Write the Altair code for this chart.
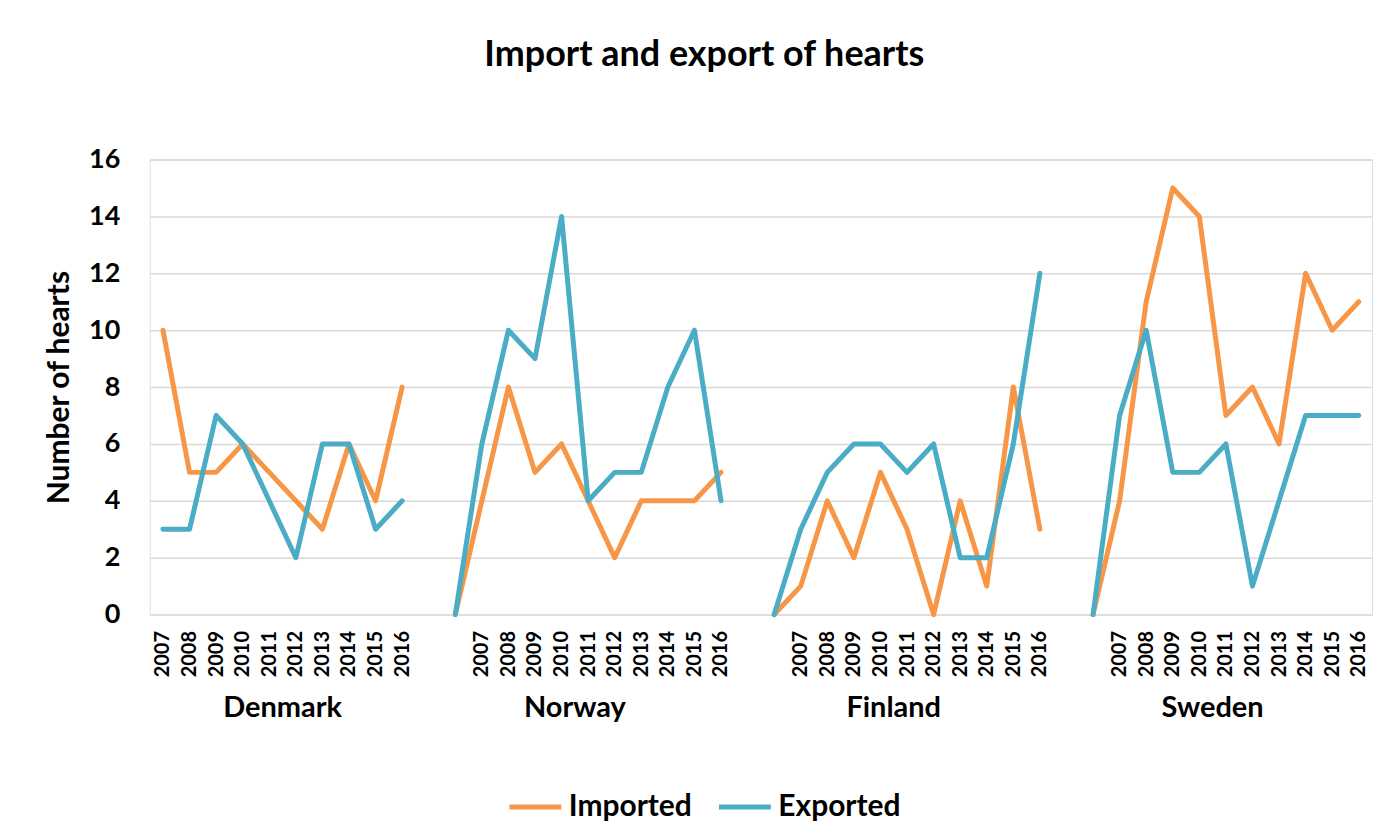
import altair as alt
import pandas as pd

# ---- data ----
countries = ["Denmark", "Norway", "Finland", "Sweden"]
years = ["2007", "2008", "2009", "2010", "2011", "2012", "2013", "2014", "2015", "2016"]
series_names = ["Imported", "Exported"]

denmark_imported = [10, 5, 5, 6, 5, 4, 3, 6, 4, 8]
denmark_exported = [3, 3, 7, 6, 4, 2, 6, 6, 3, 4]
norway_imported = [4, 8, 5, 6, 4, 2, 4, 4, 4, 5]
norway_exported = [6, 10, 9, 14, 4, 5, 5, 8, 10, 4]
finland_imported = [1, 4, 2, 5, 3, 0, 4, 1, 8, 3]
finland_exported = [3, 5, 6, 6, 5, 6, 2, 2, 6, 12]
sweden_imported = [4, 11, 15, 14, 7, 8, 6, 12, 10, 11]
sweden_exported = [7, 10, 5, 5, 6, 1, 4, 7, 7, 7]
# value of the unlabeled category that opens each group after the first
lead_value = 0

values = {
    "Denmark": (denmark_imported, denmark_exported),
    "Norway": (norway_imported, norway_exported),
    "Finland": (finland_imported, finland_exported),
    "Sweden": (sweden_imported, sweden_exported),
}

# ---- build category slots like the spreadsheet rows ----
rows = []
slot_labels = []
groups = []
slot = 0
for ci, c in enumerate(countries):
    start = slot
    if ci > 0:
        slot_labels += ["", ""]  # empty row, then unlabeled row with a value
        for s in series_names:
            rows.append({"country": c, "series": s, "slot": slot + 1, "value": lead_value})
        slot += 2
    imp, exp = values[c]
    for yi, y in enumerate(years):
        rows.append({"country": c, "series": "Imported", "slot": slot, "value": imp[yi]})
        rows.append({"country": c, "series": "Exported", "slot": slot, "value": exp[yi]})
        slot_labels.append(y)
        slot += 1
    groups.append({"country": c, "center": (start + slot - 1) / 2})

n_slots = len(slot_labels)
df = pd.DataFrame(rows)
gdf = pd.DataFrame(groups)

label_expr = "[" + ",".join("'" + s + "'" for s in slot_labels) + "][datum.value]"

FONT = "Lato"
ORANGE = "#F79646"
BLUE = "#4BACC6"
PW, PH = 1225, 456

xscale = alt.Scale(domain=[-0.5, n_slots - 0.5], nice=False, zero=False)
xaxis = alt.Axis(
    values=list(range(n_slots)),
    labelExpr=label_expr,
    labelAngle=270,
    labelAlign="right",
    labelBaseline="middle",
    labelPadding=16,
    labelFont=FONT,
    labelFontWeight="bold",
    labelFontSize=20,
    labelColor="#000000",
    labelOverlap=False,
    labelBound=False,
    labelFlush=False,
    labelSeparation=0,
    ticks=False,
    tickSize=0,
    domain=False,
    grid=False,
)

yenc = alt.Y(
    "value:Q",
    scale=alt.Scale(domain=[0, 16], nice=False),
    axis=alt.Axis(
        values=[0, 2, 4, 6, 8, 10, 12, 14, 16],
        grid=True,
        gridColor="#d9d9d9",
        gridWidth=1.5,
        domain=False,
        ticks=False,
        tickSize=0,
        labelPadding=30,
        labelFont=FONT,
        labelFontWeight="bold",
        labelFontSize=27,
        labelColor="#000000",
        titleFont=FONT,
        titleFontWeight="bold",
        titleFontSize=30,
        titleColor="#000000",
        titlePadding=14,
    ),
    title="Number of hearts",
)

color = alt.Color(
    "series:N",
    scale=alt.Scale(domain=series_names, range=[ORANGE, BLUE]),
    legend=alt.Legend(
        title=None,
        orient="none",
        legendX=358,
        legendY=620,
        direction="horizontal",
        symbolType="stroke",
        symbolSize=2700,
        symbolStrokeWidth=5,
        labelFont=FONT,
        labelFontWeight="bold",
        labelFontSize=30,
        labelColor="#000000",
        labelOffset=5,
        columnPadding=16,
    ),
)

base = alt.Chart(df)
line_style = dict(strokeWidth=5, strokeCap="round", strokeJoin="round")

imp_layer = base.transform_filter(alt.datum.series == "Imported").mark_line(**line_style).encode(
    x=alt.X("slot:Q", scale=xscale, axis=xaxis, title=None),
    y=yenc, color=color, detail="country:N", order="slot:Q"
)
exp_layer = base.transform_filter(alt.datum.series == "Exported").mark_line(**line_style).encode(
    x=alt.X("slot:Q", scale=xscale, axis=xaxis, title=None),
    y=yenc, color=color, detail="country:N", order="slot:Q"
)

group_text = alt.Chart(gdf).mark_text(
    font=FONT, fontWeight="bold", fontSize=29, baseline="middle", align="center", color="#000000"
).encode(
    x=alt.X("center:Q", scale=xscale, axis=xaxis, title=None),
    y=alt.value(PH + 94),
    text="country:N",
)

chart = alt.layer(imp_layer, exp_layer, group_text).properties(
    width=PW,
    height=PH,
    padding={"left": 142, "top": 151, "right": 20, "bottom": 210},
    autosize=alt.AutoSizeParams(type="none"),
    title=alt.TitleParams(
        "Import and export of hearts",
        font=FONT,
        fontWeight="bold",
        fontSize=36,
        color="#000000",
        anchor="middle",
        frame="bounds",
        dx=-4,
        offset=72,
    ),
).configure_view(stroke=None).configure(background="#ffffff")

chart.save("out.html", embed_options={"renderer": "svg", "actions": False})
